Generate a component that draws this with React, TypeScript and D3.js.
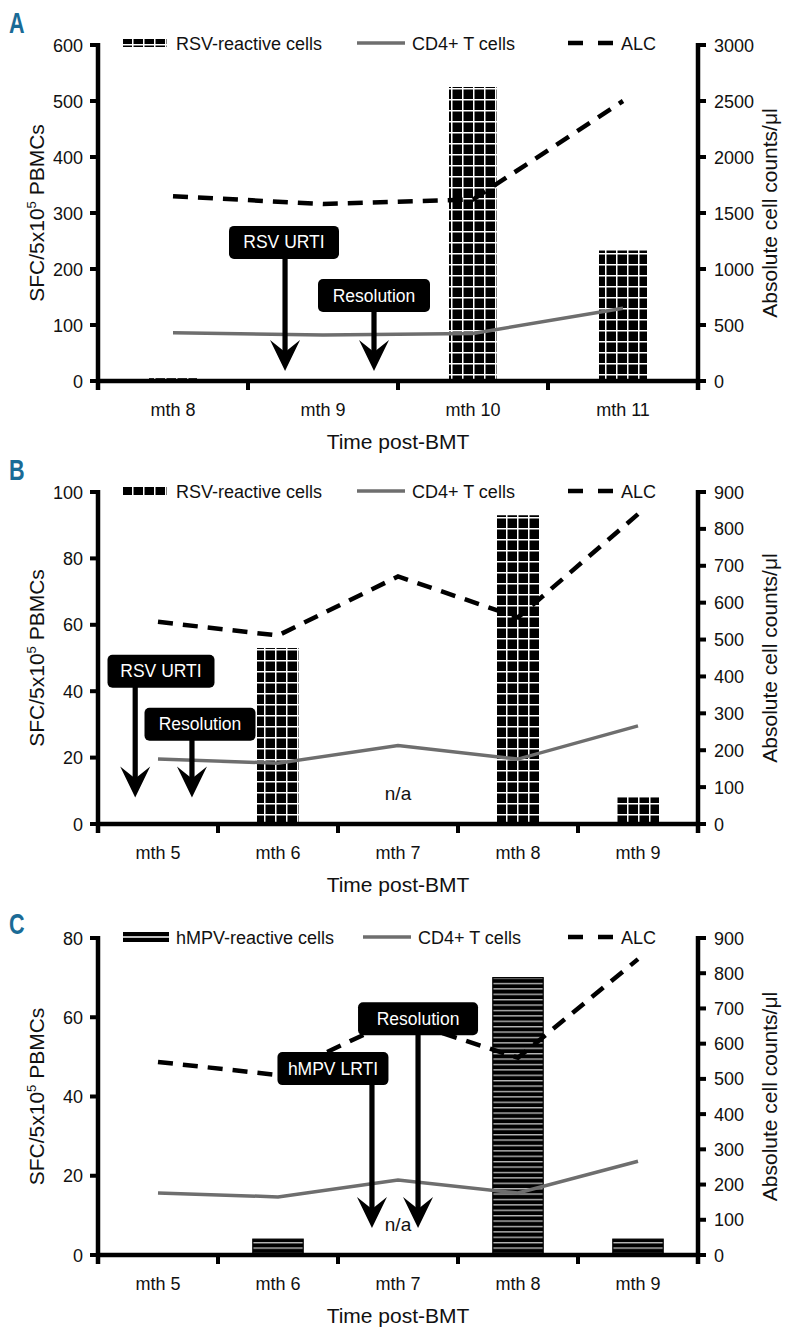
import React from "react";
import * as d3 from "d3";

// ---------- data ----------
const monthsA = ["mth 8", "mth 9", "mth 10", "mth 11"];
const rsvA: (number | null)[] = [5, 0, 525, 233];
const cd4A = [430, 410, 425, 650];
const alcA = [1650, 1580, 1620, 2500];
const leftTicksA = [0, 100, 200, 300, 400, 500, 600];
const rightTicksA = [0, 500, 1000, 1500, 2000, 2500, 3000];

const monthsBC = ["mth 5", "mth 6", "mth 7", "mth 8", "mth 9"];
const rsvB: (number | null)[] = [0, 53, null, 93, 8];
const hmpvC: (number | null)[] = [0, 4, null, 70, 4];
const cd4BC = [176, 165, 213, 176, 266];
const alcBC = [548, 511, 671, 560, 840];
const leftTicksB = [0, 20, 40, 60, 80, 100];
const leftTicksC = [0, 20, 40, 60, 80];
const rightTicksBC = [0, 100, 200, 300, 400, 500, 600, 700, 800, 900];

// annotations: position in category-index units and left-axis value units
const notesA = [
  { text: "RSV URTI", arrowAt: 0.747, boxAt: 0.74, top: 277, tip: 18, w: 110 },
  { text: "Resolution", arrowAt: 1.34, boxAt: 1.34, top: 182, tip: 18, w: 112 },
];
const notesB = [
  { text: "RSV URTI", arrowAt: -0.19, boxAt: 0.025, top: 51, tip: 8, w: 107 },
  { text: "Resolution", arrowAt: 0.283, boxAt: 0.35, top: 35, tip: 8, w: 111 },
];
const notesC = [
  { text: "hMPV LRTI", arrowAt: 1.783, boxAt: 1.458, top: 51.2, tip: 6.8, w: 111 },
  { text: "Resolution", arrowAt: 2.167, boxAt: 2.167, top: 63.8, tip: 6.8, w: 120 },
];

const FONT = "'Liberation Sans', Arial, Helvetica, sans-serif";
const X0 = 98;
const X1 = 698;

type Note = { text: string; arrowAt: number; boxAt: number; top: number; tip: number; w: number };

interface PanelProps {
  id: string;
  letter: string;
  letterY: number;
  legendY: number;
  top: number;
  bottom: number;
  months: string[];
  bars: (number | null)[];
  cd4: number[];
  alc: number[];
  leftTicks: number[];
  rightTicks: number[];
  barKind: "grid" | "stripe";
  barFrac: number;
  legendLabel: string;
  cd4LegendX: number;
  notes: Note[];
  naIndex: number | null;
}

function Panel(p: PanelProps) {
  const x = d3.scaleBand<string>().domain(p.months).range([X0, X1]).padding(0);
  const bw = x.bandwidth();
  const cx = (i: number) => X0 + bw * (i + 0.5);
  const leftMax = p.leftTicks[p.leftTicks.length - 1];
  const rightMax = p.rightTicks[p.rightTicks.length - 1];
  const yL = d3.scaleLinear().domain([0, leftMax]).range([p.bottom, p.top]);
  const yR = d3.scaleLinear().domain([0, rightMax]).range([p.bottom, p.top]);
  const line = d3
    .line<number>()
    .x((_, i) => cx(i))
    .y((d) => yR(d));
  const fillId = p.barKind === "grid" ? `grid-${p.id}` : `stripe-${p.id}`;
  const barW = bw * p.barFrac;
  const midY = (p.top + p.bottom) / 2;
  const boundaries = d3.range(p.months.length + 1).map((i) => X0 + i * bw);

  return (
    <g>
      <defs>
        <pattern id={`grid-${p.id}`} patternUnits="userSpaceOnUse" width={11} height={11}>
          <rect width={11} height={11} fill="#000" />
          <line x1={0.75} x2={0.75} y1={0} y2={11} stroke="#fff" strokeWidth={1.5} />
          <line x1={0} x2={11} y1={0.75} y2={0.75} stroke="#fff" strokeWidth={1.5} />
        </pattern>
        <pattern id={`stripe-${p.id}`} patternUnits="userSpaceOnUse" width={10} height={5.4}>
          <rect width={10} height={5.4} fill="#000" />
          <line x1={0} x2={10} y1={0.7} y2={0.7} stroke="#c4c4c4" strokeWidth={1.3} />
        </pattern>
      </defs>

      {/* panel letter */}
      <text
        transform={`translate(9,${p.letterY}) scale(0.72,1)`}
        fontFamily={FONT}
        fontWeight="bold"
        fontSize={30}
        fill="#1a6b96"
      >
        {p.letter}
      </text>

      {/* legend */}
      {p.barKind === "grid" ? (
        <rect x={123} y={p.legendY - 4} width={44} height={8} fill={`url(#${fillId})`} />
      ) : (
        <g>
          <rect x={123} y={p.legendY - 5} width={46} height={10} fill="#000" />
          <line x1={123} x2={169} y1={p.legendY} y2={p.legendY} stroke="#fff" strokeWidth={1.4} />
        </g>
      )}
      <text x={176} y={p.legendY + 6.5} fontFamily={FONT} fontSize={18} fill="#111">
        {p.legendLabel}
      </text>
      <line
        x1={p.cd4LegendX}
        x2={p.cd4LegendX + 48}
        y1={p.legendY}
        y2={p.legendY}
        stroke="#6e6e6e"
        strokeWidth={3.5}
      />
      <text x={p.cd4LegendX + 55} y={p.legendY + 6.5} fontFamily={FONT} fontSize={18} fill="#111">
        CD4+ T cells
      </text>
      <line
        x1={568}
        x2={613}
        y1={p.legendY}
        y2={p.legendY}
        stroke="#000"
        strokeWidth={4.5}
        strokeDasharray="15,15"
      />
      <text x={621} y={p.legendY + 6.5} fontFamily={FONT} fontSize={18} fill="#111">
        ALC
      </text>

      {/* bars */}
      {p.bars.map((v, i) =>
        v === null || v <= 0 ? null : (
          <rect
            key={i}
            x={cx(i) - barW / 2}
            y={yL(v)}
            width={barW}
            height={p.bottom - yL(v)}
            fill={`url(#${fillId})`}
            stroke={p.barKind === "stripe" ? "#000" : "none"}
            strokeWidth={1.2}
          />
        )
      )}

      {/* n/a */}
      {p.naIndex !== null && (
        <text
          x={cx(p.naIndex)}
          y={p.bottom - 24}
          textAnchor="middle"
          fontFamily={FONT}
          fontSize={19}
          fill="#111"
        >
          n/a
        </text>
      )}

      {/* CD4 line */}
      <path d={line(p.cd4) || ""} fill="none" stroke="#6e6e6e" strokeWidth={3.5} />
      {/* ALC line */}
      <path
        d={line(p.alc) || ""}
        fill="none"
        stroke="#000"
        strokeWidth={4.5}
        strokeDasharray="15,10"
      />

      {/* annotations */}
      {p.notes.map((n, i) => {
        const ax = cx(n.arrowAt);
        const bx = cx(n.boxAt);
        const by = yL(n.top);
        const ty = yL(n.tip);
        const bh = 33;
        return (
          <g key={i}>
            <rect x={ax - 2.6} y={by + bh - 2} width={5.2} height={ty - 18 - (by + bh - 2)} fill="#000" />
            <path
              d={`M${ax},${ty} L${ax - 15},${ty - 31} L${ax},${ty - 19} L${ax + 15},${ty - 31} Z`}
              fill="#000"
            />
            <rect x={bx - n.w / 2} y={by} width={n.w} height={bh} rx={5} fill="#000" />
            <text
              x={bx}
              y={by + bh / 2 + 6}
              textAnchor="middle"
              fontFamily={FONT}
              fontSize={17.5}
              fill="#fff"
            >
              {n.text}
            </text>
          </g>
        );
      })}

      {/* axes */}
      <line x1={X0} x2={X0} y1={p.top - 2} y2={p.bottom + 9} stroke="#000" strokeWidth={4.5} />
      <line x1={X1} x2={X1} y1={p.top - 2} y2={p.bottom + 9} stroke="#000" strokeWidth={4.5} />
      <line x1={X0 - 2} x2={X1 + 2} y1={p.bottom} y2={p.bottom} stroke="#000" strokeWidth={4.5} />
      {boundaries.map((bx, i) => (
        <line key={i} x1={bx} x2={bx} y1={p.bottom} y2={p.bottom + 9} stroke="#000" strokeWidth={4} />
      ))}
      {p.leftTicks.map((t) => (
        <g key={`l${t}`}>
          <line x1={X0 - 8} x2={X0} y1={yL(t)} y2={yL(t)} stroke="#000" strokeWidth={4} />
          <text
            x={X0 - 15}
            y={yL(t) + 6.5}
            textAnchor="end"
            fontFamily={FONT}
            fontSize={18}
            fill="#111"
          >
            {t}
          </text>
        </g>
      ))}
      {p.rightTicks.map((t) => (
        <g key={`r${t}`}>
          <line x1={X1} x2={X1 + 8} y1={yR(t)} y2={yR(t)} stroke="#000" strokeWidth={4} />
          <text x={X1 + 16} y={yR(t) + 6.5} fontFamily={FONT} fontSize={18} fill="#111">
            {t}
          </text>
        </g>
      ))}
      {p.months.map((m, i) => (
        <text
          key={m}
          x={cx(i)}
          y={p.bottom + 35}
          textAnchor="middle"
          fontFamily={FONT}
          fontSize={18}
          fill="#111"
        >
          {m}
        </text>
      ))}
      <text
        x={(X0 + X1) / 2}
        y={p.bottom + 68}
        textAnchor="middle"
        fontFamily={FONT}
        fontSize={21}
        fill="#111"
      >
        Time post-BMT
      </text>
      <text
        transform={`translate(44,${midY}) rotate(-90)`}
        textAnchor="middle"
        fontFamily={FONT}
        fontSize={21}
        fill="#111"
      >
        SFC/5x10
        <tspan fontSize={13} dy={-8}>
          5
        </tspan>
        <tspan dy={8}> PBMCs</tspan>
      </text>
      <text
        transform={`translate(777,${midY}) rotate(-90)`}
        textAnchor="middle"
        fontFamily={FONT}
        fontSize={21}
        fill="#111"
      >
        Absolute cell counts/μl
      </text>
    </g>
  );
}

export default function App() {
  return (
    <svg
      width={786}
      height={1336}
      viewBox="0 0 786 1336"
      style={{ position: "absolute", left: 0, top: 0, background: "#fff" }}
    >
      <rect width={786} height={1336} fill="#fff" />
      <Panel
        id="a"
        letter="A"
        letterY={33}
        legendY={43}
        top={45}
        bottom={381}
        months={monthsA}
        bars={rsvA}
        cd4={cd4A}
        alc={alcA}
        leftTicks={leftTicksA}
        rightTicks={rightTicksA}
        barKind="grid"
        barFrac={0.32}
        legendLabel="RSV-reactive cells"
        cd4LegendX={357}
        notes={notesA}
        naIndex={null}
      />
      <Panel
        id="b"
        letter="B"
        letterY={480}
        legendY={491}
        top={492}
        bottom={824}
        months={monthsBC}
        bars={rsvB}
        cd4={cd4BC}
        alc={alcBC}
        leftTicks={leftTicksB}
        rightTicks={rightTicksBC}
        barKind="grid"
        barFrac={0.35}
        legendLabel="RSV-reactive cells"
        cd4LegendX={357}
        notes={notesB}
        naIndex={2}
      />
      <Panel
        id="c"
        letter="C"
        letterY={934}
        legendY={937}
        top={938}
        bottom={1255}
        months={monthsBC}
        bars={hmpvC}
        cd4={cd4BC}
        alc={alcBC}
        leftTicks={leftTicksC}
        rightTicks={rightTicksBC}
        barKind="stripe"
        barFrac={0.42}
        legendLabel="hMPV-reactive cells"
        cd4LegendX={363}
        notes={notesC}
        naIndex={2}
      />
    </svg>
  );
}
